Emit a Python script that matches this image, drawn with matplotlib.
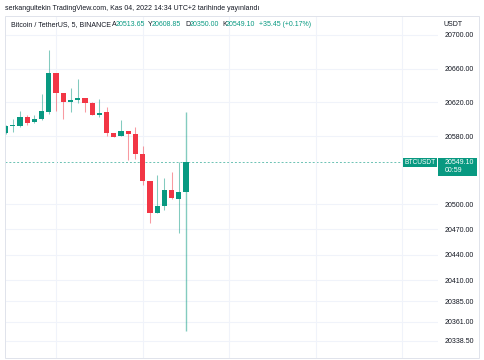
""" BTCUSDT 5m candles, TradingView snapshot look """

import matplotlib
matplotlib.use("Agg")
import matplotlib.pyplot as plt
from matplotlib.patches import Rectangle

plt.rcParams['font.family'] = ['Liberation Sans', 'DejaVu Sans']

# candle data (5 min, BINANCE BTCUSDT)
opens  = [20584.2, 20591.8, 20592.1, 20602.8, 20596.9, 20600.4, 20609.0, 20655.1, 20630.8,
          20620.1, 20622.9, 20625.6, 20619.0, 20605.5, 20608.3, 20583.5, 20580.7, 20586.2,
          20582.7, 20558.7, 20527.5, 20489.0, 20498.0, 20516.5, 20505.9, 20513.65]
highs  = [20593.0, 20600.4, 20609.9, 20605.1, 20605.1, 20629.9, 20681.9, 20655.3, 20631.5,
          20637.0, 20647.7, 20625.8, 20620.9, 20624.0, 20614.6, 20583.5, 20599.2, 20586.2,
          20590.6, 20568.9, 20527.5, 20533.9, 20530.4, 20538.2, 20550.0, 20608.85]
lows   = [20583.0, 20585.1, 20591.0, 20593.3, 20595.7, 20599.2, 20606.3, 20609.9, 20600.4,
          20609.0, 20619.3, 20609.0, 20604.8, 20603.1, 20580.7, 20579.5, 20580.7, 20552.0,
          20552.8, 20522.4, 20477.9, 20489.0, 20492.9, 20506.0, 20465.4, 20350.00]
closes = [20592.1, 20592.1, 20602.8, 20595.7, 20600.4, 20609.9, 20655.1, 20630.8, 20620.5,
          20623.2, 20625.6, 20619.3, 20604.8, 20607.9, 20584.2, 20579.5, 20586.2, 20582.7,
          20559.1, 20527.5, 20489.0, 20498.0, 20516.5, 20506.7, 20514.2, 20549.10]

price_ticks = [20700, 20660, 20620, 20580, 20500, 20470, 20440, 20410, 20385, 20361, 20338.5]
time_grid   = [7, 19, 31, 43, 55]
last_price  = 20549.10

UP   = '#089981'
DOWN = '#f23645'
TXT  = '#131722'
FS   = 5.0
W, H = 485, 360


def px(x, y):
    """ pixel (from top-left) -> figure fraction """
    return x / W, 1 - y / H


fig = plt.figure(figsize=(W / 100, H / 100), dpi=100)
fig.patch.set_facecolor('white')

x0, y0 = px(5, 358)
x1, y1 = px(438, 16)
ax = fig.add_axes([x0, y0, x1 - x0, y1 - y0])

# candles
for i, (o, h, l, c) in enumerate(zip(opens, highs, lows, closes)):
    col = UP if c >= o else DOWN
    lw = 1.0 if i == len(opens) - 1 else 0.75
    ax.vlines(i, l, h, color=col, alpha=0.5, linewidth=lw, zorder=2)
    ax.bar(i, max(abs(c - o), 1.2), bottom=min(o, c), width=0.72,
           color=col, linewidth=0, zorder=3)

ax.set_xlim(-0.08, 59.92)
ax.set_ylim(20318.1, 20722.1)

ax.set_xticks(time_grid)
ax.set_xticklabels([])
ax.set_yticks(price_ticks)
ax.set_yticklabels(['%.2f' % v for v in price_ticks])
ax.yaxis.tick_right()
ax.tick_params(axis='y', length=0, pad=5, labelsize=FS, labelcolor=TXT)
ax.tick_params(axis='x', length=0)
ax.grid(True, color='#f0f3fa', linewidth=0.8, zorder=0)
for s in ax.spines.values():
    s.set_visible(False)

# current price line
ax.axhline(last_price, xmax=(403 - 5) / 433, color=UP, alpha=0.6,
           linewidth=0.7, linestyle=(0, (2, 2)), zorder=1)

# outer border
bx, by = px(5, 358)
bx2, by2 = px(479, 16)
fig.add_artist(Rectangle((bx, by), bx2 - bx, by2 - by, transform=fig.transFigure,
                         fill=False, edgecolor='#e0e3eb', linewidth=0.7))

# labels on price scale
lx, ly = px(403, 166.7)
lx2, ly2 = px(437, 157.7)
fig.add_artist(Rectangle((lx, ly), lx2 - lx, ly2 - ly, transform=fig.transFigure,
                         color=UP, linewidth=0))
fig.text(*px(420, 162.3), 'BTCUSDT', color='white', fontsize=4.8,
         ha='center', va='center')
px1, py1 = px(438, 176)
px2, py2 = px(477, 157.7)
fig.add_artist(Rectangle((px1, py1), px2 - px1, py2 - py1, transform=fig.transFigure,
                         color=UP, linewidth=0))
fig.text(*px(445, 162.3), '%.2f' % last_price, color='white', fontsize=FS, va='center')
fig.text(*px(445, 171), '00:59', color='white', fontsize=FS, va='center')

fig.text(*px(444, 24), 'USDT', color=TXT, fontsize=FS, va='center')

# header lines
fig.text(*px(5, 9), 'serkangultekin TradingView.com, Kas 04, 2022 14:34 UTC+2 tarihinde yayınlandı',
         color=TXT, fontsize=5.0, va='center')
fig.text(*px(11, 25), 'Bitcoin / TetherUS, 5, BINANCE', color=TXT, fontsize=FS, va='center')
header = [(112, 'A', 115.5, '%.2f' % opens[-1]),
          (148, 'Y', 152, '%.2f' % highs[-1]),
          (185.5, 'D', 189.5, '%.2f' % lows[-1]),
          (222, 'K', 226, '%.2f' % closes[-1])]
for xl, letter, xv, val in header:
    fig.text(*px(xl, 25), letter, color=TXT, fontsize=FS, va='center')
    fig.text(*px(xv, 25), val, color=UP, fontsize=FS, va='center')
fig.text(*px(259, 25), '+35.45 (+0.17%)', color=UP, fontsize=FS, va='center')

fig.savefig('out.png', dpi=100, facecolor='white')
